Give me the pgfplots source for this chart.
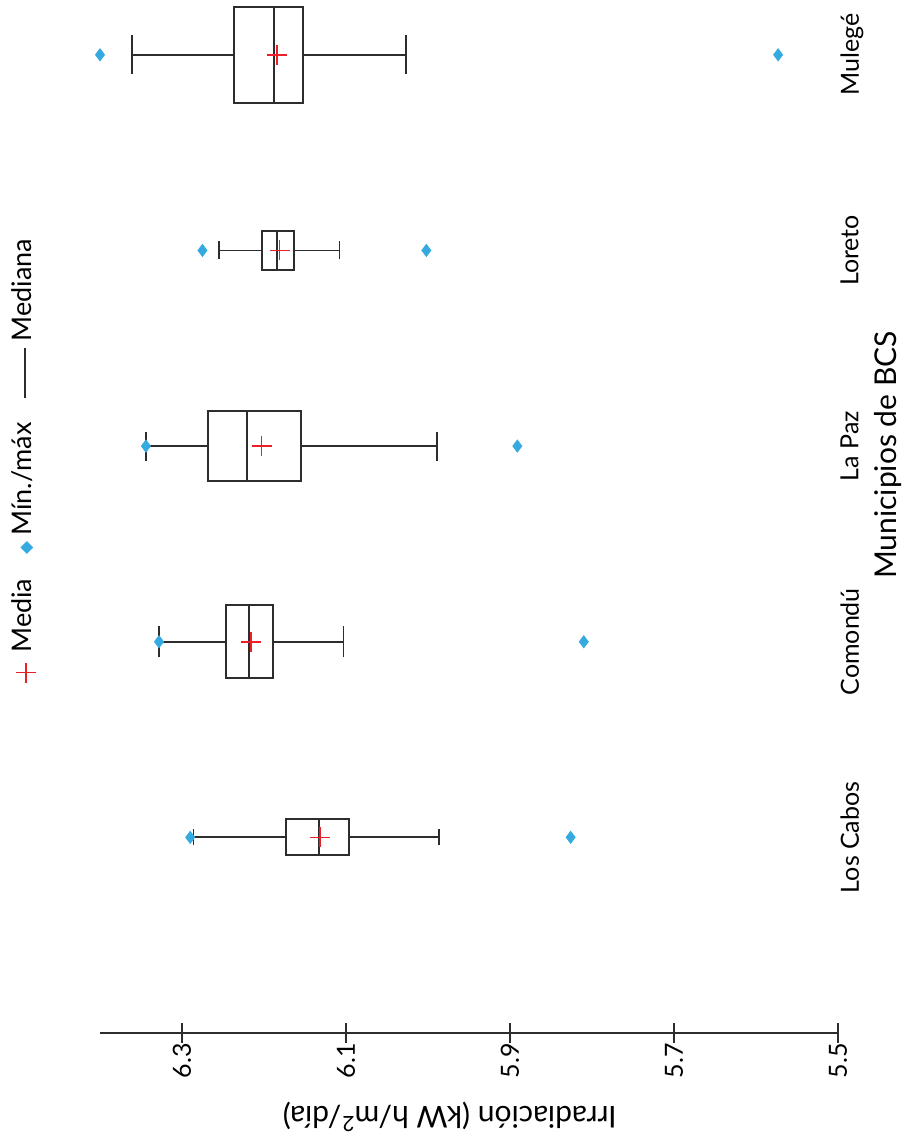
\documentclass[border=0pt]{standalone}
\usepackage{pgfplots}
\usepgfplotslibrary{statistics}
\pgfplotsset{compat=1.18}
\usepackage{fontspec}
\setmainfont{Lato}
\newfontfamily\djv{DejaVu Sans}
\definecolor{mm}{RGB}{52,170,224}
\definecolor{mred}{RGB}{236,30,40}
\definecolor{bx}{RGB}{45,45,45}
\newcommand\plusglyph{\textcolor{mred}{\rule[2.25pt]{10pt}{0.75pt}\kern-5.375pt\rule[-2.375pt]{0.75pt}{10pt}\kern4.625pt}}
\newcommand\diaglyph{\textcolor{mm}{\djv\fontsize{8.5}{8.5}\selectfont ◆}}
\newcommand\lineglyph{\textcolor{bx}{\rule[2.6pt]{25pt}{0.9pt}}}
\pgfplotsset{
  noleg/.style={legend image code/.code={}},
}
\begin{document}
\begin{tikzpicture}
\begin{axis}[
  scale only axis, width=369pt, height=516.5pt,
  x dir=reverse, xmin=5.5, xmax=6.4, ymin=0, ymax=5.28,
  clip=false,
  axis x line*=bottom,
  y axis line style={draw=none},
  x axis line style={draw=bx, line width=1pt},
  xtick={5.5,5.7,5.9,6.1,6.3},
  xticklabels={5.5,5.7,5.9,6.1,6.3},
  tick align=center, major tick length=10pt,
  xtick style={draw=bx, line width=1pt},
  xticklabel style={rotate=90, anchor=east, inner sep=0pt, font=\fontsize{12.5}{15}\selectfont},
  ytick={1,2,3,4,5},
  yticklabels={Los Cabos,Comondú,La Paz,Loreto,Mulegé},
  yticklabel pos=right,
  ytick style={draw=none},
  yticklabel style={xshift=-4pt, rotate=90, anchor=north, inner sep=0pt, font=\fontsize{12.5}{15}\selectfont},
  xlabel={Irradiación (kW h/m\textsuperscript{2}/día)},
  ylabel={Municipios de BCS},
  every axis x label/.style={at={(axis description cs:0.474,-0.081)}, anchor=center, rotate=180, font=\fontsize{15}{18}\selectfont},
  every axis y label/.style={at={(axis description cs:1.068,0.5595)}, anchor=center, rotate=90, font=\fontsize{15}{18}\selectfont},
  legend columns=1, reverse legend,
  legend style={at={(axis description cs:-0.1043,0.554)}, anchor=center, draw=none, fill=none,
    font=\fontsize{13.5}{15}\selectfont, nodes={rotate=90, inner sep=0pt},
    row sep=12pt,
    /tikz/every odd column/.append style={column sep=0pt}},
]
\addplot[forget plot, draw=bx, line width=0.9pt, boxplot prepared={draw position=1, lower whisker=5.987, lower quartile=6.096, median=6.133, upper quartile=6.173, upper whisker=6.286, box extend=0.184, whisker extend=0.081}] coordinates {};
\addplot[forget plot, draw=bx, line width=0.9pt, boxplot prepared={draw position=2, lower whisker=6.103, lower quartile=6.189, median=6.218, upper quartile=6.246, upper whisker=6.328, box extend=0.373, whisker extend=0.158}] coordinates {};
\addplot[forget plot, draw=bx, line width=0.9pt, boxplot prepared={draw position=3, lower whisker=5.989, lower quartile=6.155, median=6.221, upper quartile=6.268, upper whisker=6.344, box extend=0.358, whisker extend=0.148}] coordinates {};
\addplot[forget plot, draw=bx, line width=0.9pt, boxplot prepared={draw position=4, lower whisker=6.108, lower quartile=6.163, median=6.184, upper quartile=6.202, upper whisker=6.255, box extend=0.2, whisker extend=0.092}] coordinates {};
\addplot[forget plot, draw=bx, line width=0.9pt, boxplot prepared={draw position=5, lower whisker=6.027, lower quartile=6.152, median=6.188, upper quartile=6.237, upper whisker=6.361, box extend=0.49, whisker extend=0.2}] coordinates {};
\addplot[only marks, color=mred, mark=+, mark size=5pt, mark options={solid, draw=mred, line width=0.8pt}, noleg]
  coordinates {(6.132,1) (6.216,2) (6.203,3) (6.181,4) (6.184,5)};
\addlegendentry{\plusglyph\hspace{5pt}Media}
\addplot[only marks, mark=diamond*, mark size=3pt, color=mm, mark options={draw=mm, fill=mm}, noleg]
  coordinates {(6.290,1) (5.826,1) (6.328,2) (5.810,2) (6.344,3) (5.891,3) (6.275,4) (6.002,4) (6.400,5) (5.573,5)};
\addlegendentry{\diaglyph\hspace{3pt}Mín./máx}
\addlegendimage{noleg}
\addlegendentry{\lineglyph\hspace{3.5pt}Mediana}
\coordinate (bbsw) at (axis description cs:-0.1355,-0.1026);
\coordinate (bbne) at (axis description cs:1.0908,1.0);
\end{axis}
\pgfresetboundingbox
\path[use as bounding box] (bbsw) rectangle (bbne);
\end{tikzpicture}
\end{document}
